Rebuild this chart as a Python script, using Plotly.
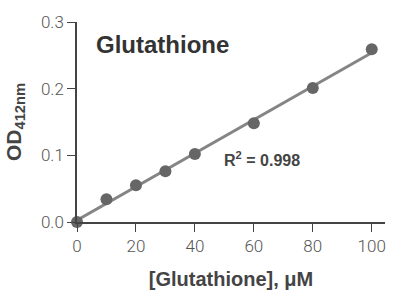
import numpy as np
import plotly.graph_objects as go

conc = [0, 10, 20, 30, 40, 60, 80, 100]
od = [0.0, 0.034, 0.055, 0.076, 0.102, 0.148, 0.201, 0.259]
x_ticks = [0, 20, 40, 60, 80, 100]
y_ticks = [0.0, 0.1, 0.2, 0.3]
y_tick_text = ["0.0", "0.1", "0.2", "0.3"]

slope, intercept = np.polyfit(conc, od, 1)
fit_x = [0, 100]
fit_y = [intercept + slope * v for v in fit_x]

fig = go.Figure()
fig.add_trace(go.Scatter(x=fit_x, y=fit_y, mode="lines",
                         line=dict(color="#858585", width=3), hoverinfo="skip",
                         cliponaxis=False))
fig.add_trace(go.Scatter(x=conc, y=od, mode="markers",
                         marker=dict(color="#666666", size=12),
                         cliponaxis=False))

font_family = "Liberation Sans, Arial, sans-serif"
tick_font = dict(size=17, color="#555555", family="Roboto, Liberation Sans, sans-serif", weight=300)
fig.update_layout(
    width=400, height=300,
    margin=dict(l=77, r=15, t=16, b=78),
    plot_bgcolor="white", paper_bgcolor="white",
    showlegend=False,
    font=dict(family=font_family, color="#555555"),
    xaxis=dict(range=[0, 104.5], tickvals=x_ticks, ticks="outside", ticklen=8,
               tickcolor="#444", showline=True, linecolor="#444", linewidth=1.5,
               showgrid=False, zeroline=False,
               tickfont=tick_font,
               title=dict(text="<b>[Glutathione], μM</b>", standoff=17,
                          font=dict(size=20, color="#444444"))),
    yaxis=dict(range=[0, 0.3], tickvals=y_ticks, ticktext=y_tick_text,
               ticks="outside", ticklen=8,
               tickcolor="#444", showline=True, linecolor="#444", linewidth=1.5,
               showgrid=False, zeroline=False,
               tickfont=tick_font,
               title=dict(text="<b>OD<sub>412nm</sub></b>", standoff=14,
                          font=dict(size=21, color="#444444"))),
)
fig.add_annotation(x=0.055, y=0.89, xref="paper", yref="paper", xanchor="left",
                   yanchor="middle", showarrow=False,
                   text="<b>Glutathione</b>",
                   font=dict(size=24, color="#333333", family=font_family))
fig.add_annotation(x=49.2, y=0.094, xref="x", yref="y", xanchor="left",
                   yanchor="middle", showarrow=False,
                   text="<b>R<sup>2</sup> = 0.998</b>",
                   font=dict(size=16, color="#444444", family=font_family))
fig.write_html("out.html")
